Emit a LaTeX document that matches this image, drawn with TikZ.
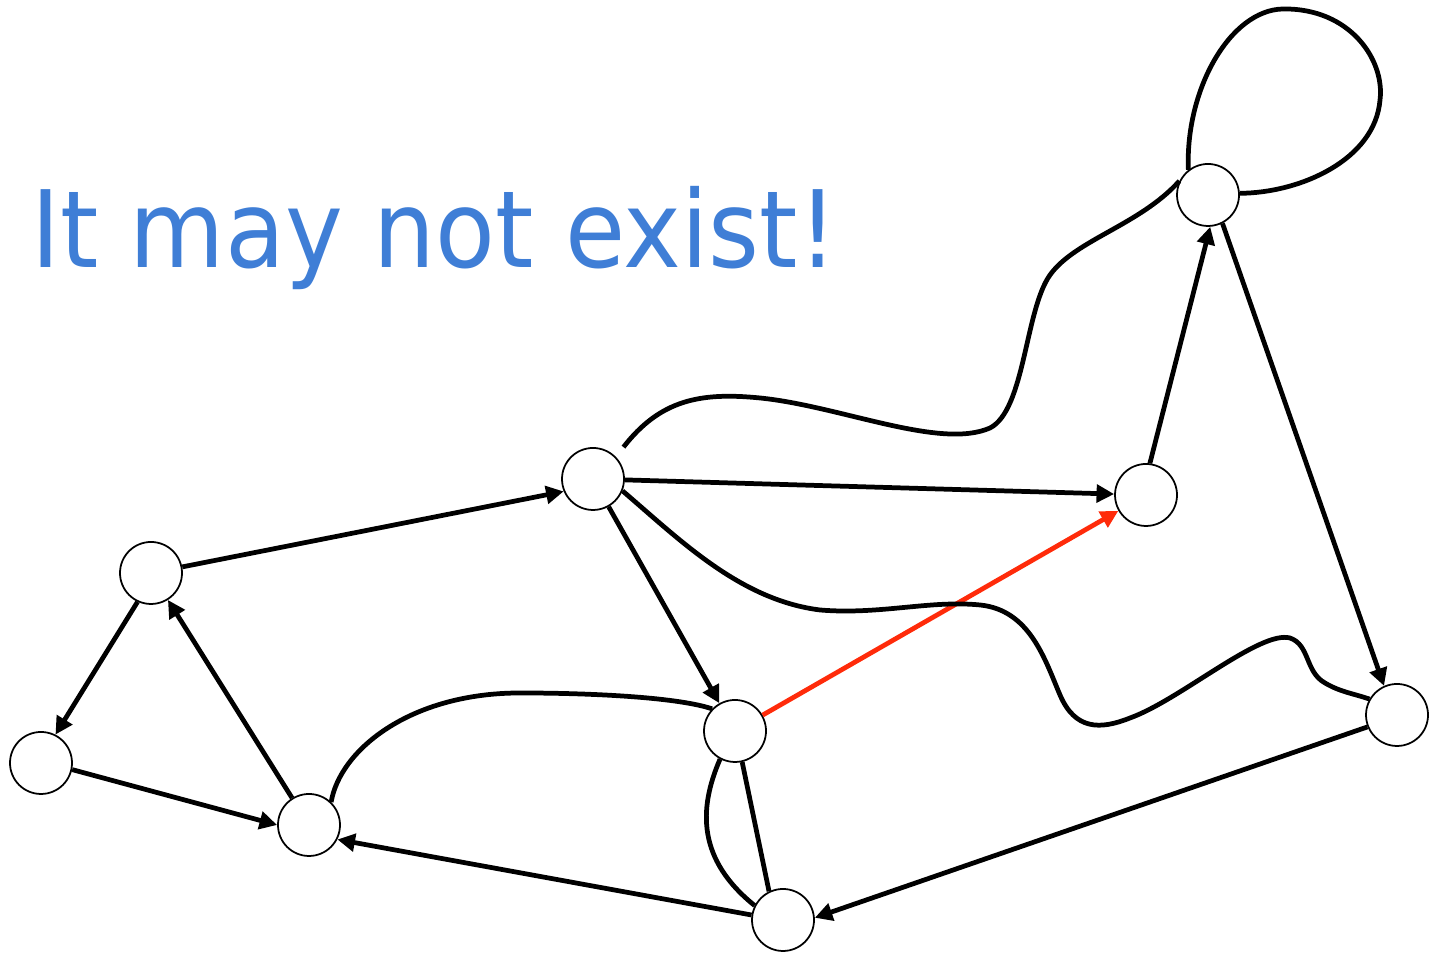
\documentclass[tikz,border=0pt]{standalone}
\usepackage{fontspec}
\usepackage{tikz}
\usetikzlibrary{arrows.meta}
\newfontfamily\titlefont{DejaVu Sans}
\definecolor{skyblue}{HTML}{3F7ED6}
\definecolor{redorange}{HTML}{FF2B0A}

\begin{document}
\begin{tikzpicture}[x=1cm,y=1cm,
  vertex/.style={circle,draw=black,line width=0.5pt,fill=white,minimum size=0.62cm,inner sep=0pt},
  edge/.style={black,line width=1.35pt},
  arc/.style={edge,-{Triangle[length=5pt,width=5pt]}}]
\useasboundingbox (0,0) rectangle (14.29,9.54);
\node[anchor=base west,inner sep=0pt,text=skyblue,font=\titlefont\fontsize{30.4}{36}\selectfont] (title) at (0.31,6.86) {\scalebox{0.915}[1]{It may not exist!}};
% vertices
\node[vertex] (A) at (1.51,3.81) {};
\node[vertex] (B) at (0.41,1.91) {};
\node[vertex] (C) at (3.09,1.29) {};
\node[vertex] (D) at (5.93,4.75) {};
\node[vertex] (E) at (7.35,2.23) {};
\node[vertex] (F) at (11.46,4.59) {};
\node[vertex] (G) at (12.08,7.59) {};
\node[vertex] (H) at (13.97,2.39) {};
\node[vertex] (I) at (7.83,0.34) {};
% directed edges
\draw[arc] (A.11) -- (D.203);
\draw[arc] (A.-115) -- (B.63);
\draw[arc] (B.-12) -- (C.180);
\draw[arc] (C) -- (A);
\draw[arc] (D) -- (F);
\draw[arc] (D) -- (E);
\draw[arc,redorange] (E) -- (F);
\draw[arc] (F.83) -- (G.-86);
\draw[arc] (G.-63) -- (H.114);
\draw[arc] (H.202) -- (I.4);
\draw[arc] (I.171) -- (C.-27);
% undirected curves
\draw[edge,shorten <=3.5pt] (D.44) .. controls (6.60,5.54) and (7.00,5.62) .. (7.60,5.56)
  .. controls (8.40,5.48) and (9.40,5.04) .. (9.90,5.26)
  .. controls (10.25,5.44) and (10.25,6.44) .. (10.50,6.79)
  .. controls (10.75,7.14) and (11.40,7.29) .. (G.154);
\draw[edge] (D.-22) .. controls (6.80,4.14) and (7.40,3.54) .. (8.20,3.44)
  .. controls (8.80,3.39) and (9.30,3.54) .. (9.80,3.49)
  .. controls (10.30,3.44) and (10.45,2.94) .. (10.60,2.59)
  .. controls (10.75,2.24) and (11.00,2.24) .. (11.30,2.36)
  .. controls (11.80,2.54) and (12.60,3.24) .. (12.90,3.16)
  .. controls (13.10,3.09) and (13.05,2.82) .. (13.25,2.71)
  .. controls (13.40,2.62) and (13.55,2.60) .. (H.150);
\draw[edge] (C.46) .. controls (3.40,2.04) and (4.10,2.61) .. (5.20,2.61)
  .. controls (6.00,2.61) and (6.80,2.56) .. (E.136);
\draw[edge] (E.242) .. controls (6.98,1.44) and (6.98,0.94) .. (I.153);
\draw[edge] (E.-77) -- (I.116);
\draw[edge] (G.128) .. controls (11.85,8.64) and (12.30,9.44) .. (12.83,9.45)
  .. controls (13.50,9.46) and (13.85,8.94) .. (13.80,8.54)
  .. controls (13.75,7.94) and (13.00,7.61) .. (G.3);
\end{tikzpicture}
\end{document}
